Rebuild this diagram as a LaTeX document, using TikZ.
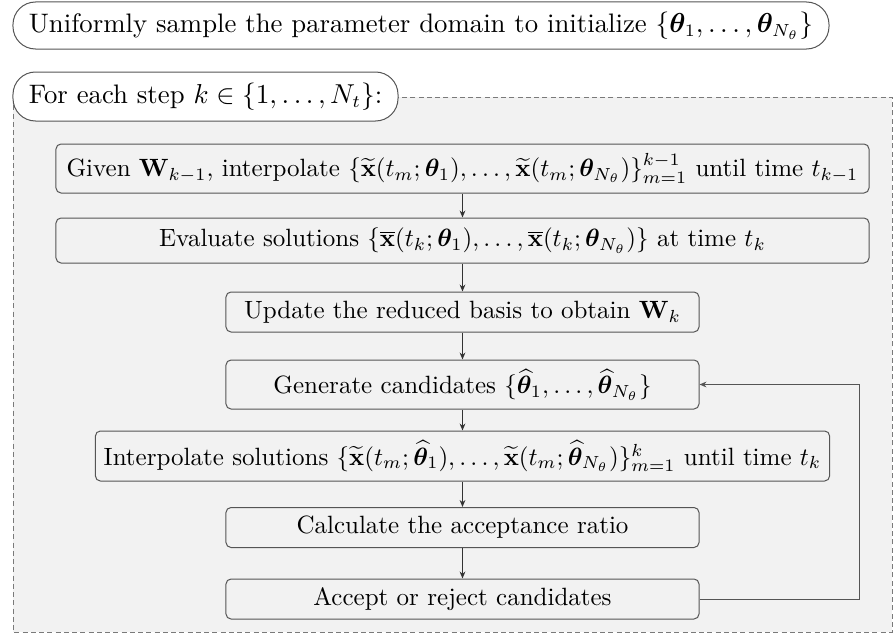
\documentclass[tikz,border=0pt]{standalone}
\usepackage{amsmath,amssymb,bm}
\usetikzlibrary{arrows.meta}
\definecolor{boxgray}{HTML}{F2F2F2}
\definecolor{edgegray}{HTML}{555555}
\definecolor{dashgray}{HTML}{7A7A7A}
\tikzset{
  pill/.style={draw=edgegray, fill=white, rounded corners=9pt, minimum height=18.8pt,
               font=\fontsize{10.7}{13}\selectfont},
  stepbox/.style={draw=edgegray, fill=boxgray, rounded corners=2pt, minimum height=16pt},
  wide/.style={minimum width=325.2pt},
  narrow/.style={minimum width=189.2pt},
  flow/.style={-{Stealth[length=2.8pt,width=2.3pt]}, black!80, thin}
}
\begin{document}
\begin{tikzpicture}[x=0.4pt, y=-0.4pt]
  \useasboundingbox (0,0) rectangle (894,633);
  % loop frame
  \draw[dash pattern=on 2pt off 1.3pt, dashgray, fill=boxgray] (13,97) rectangle (892,632);
  \node (init) [pill, minimum width=326.4pt] at (421,25.5)
        {Uniformly sample the parameter domain to initialize $\{\bm{\theta}_1,\dots,\bm{\theta}_{N_\theta}\}$};
  \node (loop) [pill, minimum width=154pt, minimum height=19.6pt] at (205.5,96.5)
        {For each step $k\in\{1,\dots,N_t\}$:};
  % steps
  \node (given) [stepbox, wide, minimum height=19.6pt] at (462.5,168.5)
        {Given $\mathbf{W}_{k-1}$, interpolate $\{\widetilde{\mathbf{x}}(t_m;\bm{\theta}_1),\dots,\widetilde{\mathbf{x}}(t_m;\bm{\theta}_{N_\theta})\}_{m=1}^{k-1}$ until time $t_{k-1}$};
  \node (eval) [stepbox, wide, minimum height=18pt] at (462.5,240.5)
        {Evaluate solutions $\{\overline{\mathbf{x}}(t_k;\bm{\theta}_1),\dots,\overline{\mathbf{x}}(t_k;\bm{\theta}_{N_\theta})\}$ at time $t_k$};
  \node (update) [stepbox, narrow] at (462.5,312)
        {Update the reduced basis to obtain $\mathbf{W}_k$};
  \node (gen) [stepbox, narrow, minimum height=19.6pt] at (462.5,384.5)
        {Generate candidates $\{\widehat{\bm{\theta}}_1,\dots,\widehat{\bm{\theta}}_{N_\theta}\}$};
  \node (interp) [stepbox, minimum height=20pt] at (462.5,456)
        {Interpolate solutions $\{\widetilde{\mathbf{x}}(t_m;\widehat{\bm{\theta}}_1),\dots,\widetilde{\mathbf{x}}(t_m;\widehat{\bm{\theta}}_{N_\theta})\}_{m=1}^{k}$ until time $t_k$};
  \node (ratio) [stepbox, narrow] at (462.5,527.5)
        {Calculate the acceptance ratio};
  \node (accept) [stepbox, narrow] at (462.5,599)
        {Accept or reject candidates};
  \coordinate (back) at (859,599);
  % connectors
  \draw[flow] (given) -- (eval);
  \draw[flow] (eval) -- (update);
  \draw[flow] (update) -- (gen);
  \draw[flow] (gen) -- (interp);
  \draw[flow] (interp) -- (ratio);
  \draw[flow] (ratio) -- (accept);
  \draw[flow, edgegray] (accept.east) -- (back) |- (gen.east);
\end{tikzpicture}
\end{document}
